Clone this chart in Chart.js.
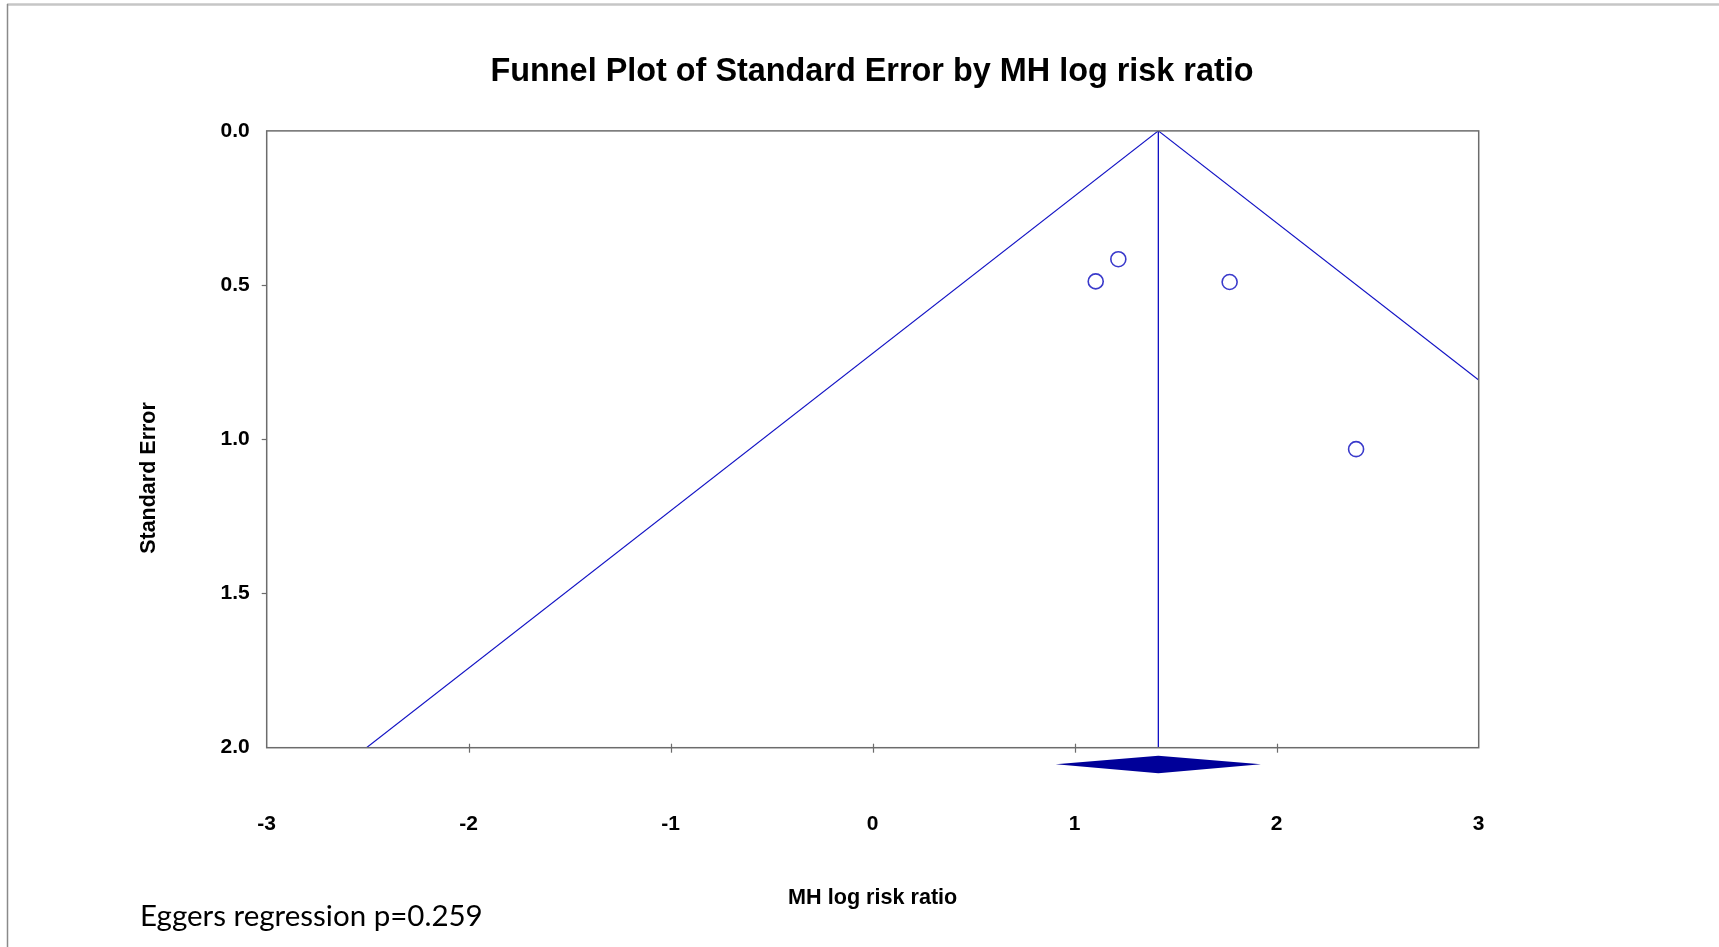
<!DOCTYPE html>
<html>
<head>
<meta charset="utf-8">
<script src="https://cdn.jsdelivr.net/npm/chart.js@4.4.1/dist/chart.umd.min.js"></script>
<style>
  html, body { margin: 0; padding: 0; background: #ffffff; }
  #wrap { width: 1719px; height: 947px; position: relative; }
</style>
</head>
<body>
<div id="wrap"><canvas id="c"></canvas></div>
<script>
// ---- data ----
const xTickValues = [-3, -2, -1, 0, 1, 2, 3];
const yTickValues = [0, 0.5, 1.0, 1.5, 2.0];
const studyLogRR = [1.104, 1.216, 1.767, 2.393];
const studySE    = [0.488, 0.416, 0.490, 1.032];
const pooledLineX = [1.414, 1.414];
const pooledLineY = [0, 2];
const funnelLeftX = [1.414, -2.506];
const funnelLeftY = [0, 2];
const funnelRightX = [1.414, 3.0];
const funnelRightY = [0, 0.808];
const diamondX = [0.906, 1.414, 1.922, 1.414];
const diamondY = [2.054, 2.026, 2.054, 2.083];
const titleText = 'Funnel Plot of Standard Error by MH log risk ratio';
const xTitle = 'MH log risk ratio';
const yTitle = 'Standard Error';
const noteText = 'Eggers regression p=0.259';

const toPts = (xs, ys) => xs.map((x, i) => ({ x: x, y: ys[i] }));
const lineBlue = '#1212c4';
const axisGrey = '#6c6c6c';
const FONT = '"Liberation Sans", Arial, sans-serif';

const decorPlugin = {
  id: 'decor',
  beforeDraw(chart) {
    const ctx = chart.ctx;
    ctx.save();
    ctx.fillStyle = '#ffffff';
    ctx.fillRect(0, 0, chart.width, chart.height);
    // outer frame
    ctx.strokeStyle = '#c6c6c6';
    ctx.lineWidth = 2.5;
    ctx.beginPath(); ctx.moveTo(7, 4.5); ctx.lineTo(chart.width, 4.5); ctx.stroke();
    ctx.strokeStyle = '#8a8a8a';
    ctx.lineWidth = 1.5;
    ctx.beginPath(); ctx.moveTo(7.5, 4); ctx.lineTo(7.5, chart.height); ctx.stroke();
    ctx.restore();
  },
  afterDraw(chart) {
    const ctx = chart.ctx;
    const a = chart.chartArea;
    const xs = chart.scales.x, ys = chart.scales.y;
    ctx.save();
    // plot box
    ctx.strokeStyle = axisGrey;
    ctx.lineWidth = 1.5;
    ctx.strokeRect(a.left, a.top, a.right - a.left, a.bottom - a.top);
    // x tick marks (crossing the axis)
    ctx.lineWidth = 1.2;
    xTickValues.slice(1, -1).forEach(v => {
      const px = Math.round(xs.getPixelForValue(v)) + 0.5;
      ctx.beginPath(); ctx.moveTo(px, a.bottom - 4); ctx.lineTo(px, a.bottom + 5); ctx.stroke();
    });
    // y tick marks (outside)
    yTickValues.slice(1, -1).forEach(v => {
      const py = Math.round(ys.getPixelForValue(v)) + 0.5;
      ctx.beginPath(); ctx.moveTo(a.left - 5, py); ctx.lineTo(a.left, py); ctx.stroke();
    });
    // pooled estimate diamond
    ctx.fillStyle = '#000099';
    ctx.beginPath();
    diamondX.forEach((v, i) => {
      const px = xs.getPixelForValue(v), py = ys.getPixelForValue(diamondY[i]);
      if (i === 0) ctx.moveTo(px, py); else ctx.lineTo(px, py);
    });
    ctx.closePath();
    ctx.fill();
    // y axis title (rotated)
    ctx.fillStyle = '#000000';
    ctx.save();
    ctx.translate(149, 478);
    ctx.rotate(-Math.PI / 2);
    ctx.font = 'bold 21.5px ' + FONT;
    ctx.textAlign = 'center';
    ctx.textBaseline = 'middle';
    ctx.fillText(yTitle, 0, 0);
    ctx.restore();
    // note text
    let size = 28;
    ctx.font = size + 'px Lato, "Open Sans", sans-serif';
    const w = ctx.measureText(noteText).width;
    size = size * 343 / w;
    ctx.font = size.toFixed(1) + 'px Lato, "Open Sans", sans-serif';
    ctx.textAlign = 'left';
    ctx.textBaseline = 'alphabetic';
    ctx.fillText(noteText, 140, 926);
    ctx.restore();
  }
};

const boldFont = (s) => ({ family: FONT, size: s, weight: 'bold' });

new Chart(document.getElementById('c'), {
  type: 'scatter',
  data: {
    datasets: [
      {
        label: 'Pooled',
        data: toPts(pooledLineX, pooledLineY),
        showLine: true, borderColor: lineBlue, borderWidth: 1.3,
        pointRadius: 0, xAxisID: 'x', yAxisID: 'y'
      },
      {
        label: 'Funnel left',
        data: toPts(funnelLeftX, funnelLeftY),
        showLine: true, borderColor: lineBlue, borderWidth: 1.2,
        pointRadius: 0, xAxisID: 'x', yAxisID: 'y'
      },
      {
        label: 'Funnel right',
        data: toPts(funnelRightX, funnelRightY),
        showLine: true, borderColor: lineBlue, borderWidth: 1.2,
        pointRadius: 0, xAxisID: 'x', yAxisID: 'y'
      },
      {
        label: 'Studies',
        data: toPts(studyLogRR, studySE),
        showLine: false,
        pointRadius: 7.5, pointHoverRadius: 7.5,
        pointBorderColor: '#3a3acb', pointBorderWidth: 1.6,
        pointBackgroundColor: 'rgba(255,255,255,0)',
        xAxisID: 'x', yAxisID: 'y'
      }
    ]
  },
  plugins: [decorPlugin],
  options: {
    responsive: true,
    maintainAspectRatio: false,
    animation: false,
    devicePixelRatio: 1,
    layout: { padding: { left: 25, right: 0, top: 0, bottom: 0 } },
    plugins: {
      legend: { display: false },
      tooltip: { enabled: false },
      title: {
        display: true,
        text: titleText,
        color: '#000000',
        font: boldFont(32.4),
        padding: { top: 53, bottom: 39 }
      }
    },
    scales: {
      x: {
        type: 'linear',
        position: 'bottom',
        min: -3, max: 3,
        afterBuildTicks: (s) => { s.ticks = xTickValues.map(v => ({ value: v })); },
        afterFit: (s) => { s.height = 199.3; },
        grid: { display: false },
        border: { display: false },
        ticks: { color: '#000000', font: boldFont(21), padding: 56, maxRotation: 0 },
        title: {
          display: true, text: xTitle, color: '#000000',
          font: boldFont(21.6), padding: { top: 0, bottom: 35.5 }
        }
      },
      y: {
        type: 'linear',
        position: 'left',
        reverse: true,
        min: 0, max: 2,
        afterBuildTicks: (s) => { s.ticks = yTickValues.map(v => ({ value: v })); },
        afterFit: (s) => { s.width = 241.7; },
        grid: { display: false },
        border: { display: false },
        ticks: {
          color: '#000000', font: boldFont(21), padding: 9,
          callback: (v) => Number(v).toFixed(1)
        },
        title: { display: false }
      },
      y2: {
        type: 'linear',
        position: 'right',
        min: 0, max: 2,
        afterFit: (s) => { s.width = 240.3; },
        grid: { display: false },
        border: { display: false },
        ticks: { display: false }
      }
    }
  }
});
</script>
</body>
</html>
